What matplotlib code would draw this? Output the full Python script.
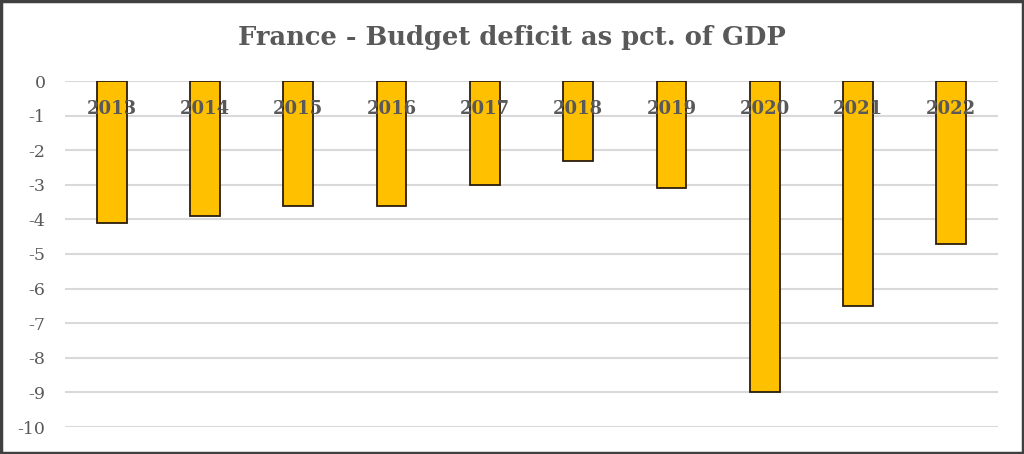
import matplotlib
matplotlib.use("Agg")
import matplotlib.pyplot as plt
from matplotlib.patches import Rectangle

years = ["2013", "2014", "2015", "2016", "2017", "2018", "2019", "2020", "2021", "2022"]
deficit = [-4.1, -3.9, -3.6, -3.6, -3.0, -2.3, -3.1, -9.0, -6.5, -4.7]
yticks = [0, -1, -2, -3, -4, -5, -6, -7, -8, -9, -10]

fig = plt.figure(figsize=(10.24, 4.54), dpi=100)
ax = fig.add_axes([65/1024, 1 - 427/454, 933/1024, (427-81)/454])

x = list(range(len(years)))
ax.bar(x, deficit, width=0.32, color="#FFC000", edgecolor="#2b1d0e", linewidth=1.3, zorder=2)

ax.set_xlim(-0.5, len(years) - 0.5)
ax.set_ylim(-10, 0)
ax.set_yticks(yticks)
ax.set_yticklabels([str(v) for v in yticks], family="DejaVu Serif", fontsize=12.5, color="#595959")
ax.grid(axis="y", color="#D9D9D9", linewidth=1.5, zorder=0)
ax.set_axisbelow(True)
for s in ax.spines.values():
    s.set_visible(False)
ax.tick_params(axis="y", length=0, pad=14)

ax.xaxis.tick_top()
ax.set_xticks(x)
ax.set_xticklabels(years, family="DejaVu Serif", fontweight="bold", fontsize=13, color="#595959")
ax.tick_params(axis="x", length=0, pad=-27)
ax.xaxis.set_zorder(5)

fig.text(0.5, 1 - 37/454, "France - Budget deficit as pct. of GDP", ha="center", va="center",
         family="DejaVu Serif", fontweight="bold", fontsize=18.5, color="#595959")

fig.patches.append(Rectangle((0.001, 0.002), 0.998, 0.996, transform=fig.transFigure,
                             fill=False, edgecolor="#404040", linewidth=2.5))

fig.savefig("out.png", dpi=100)
